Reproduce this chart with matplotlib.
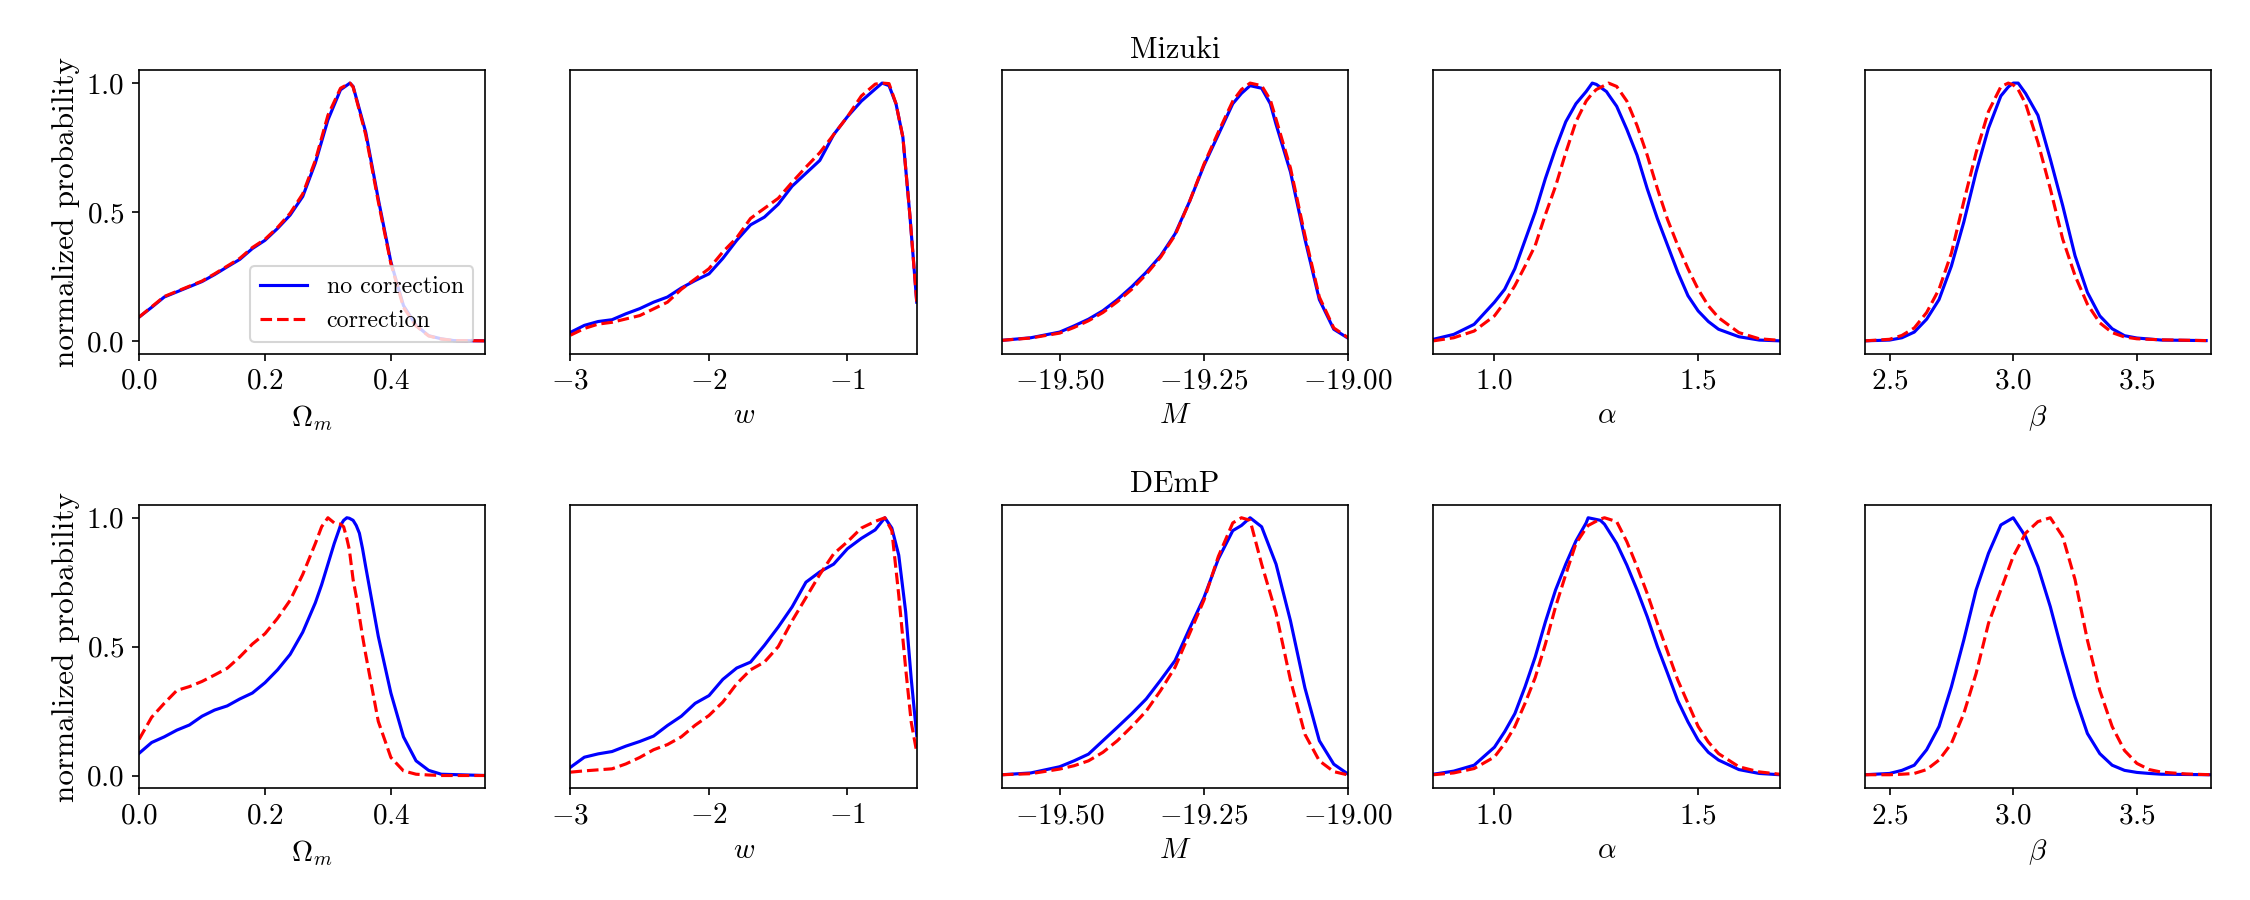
import matplotlib
matplotlib.use("Agg")
import matplotlib.pyplot as plt
import numpy as np

plt.rcParams['font.family'] = ['cmr10', 'DejaVu Serif']
plt.rcParams['mathtext.fontset'] = 'cm'
plt.rcParams['axes.formatter.use_mathtext'] = True
plt.rcParams['axes.unicode_minus'] = True
plt.rcParams['font.size'] = 14

row_titles = ["Mizuki", "DEmP"]
xlabels = [r"$\Omega_m$", r"$w$", r"$M$", r"$\alpha$", r"$\beta$"]
xlims = [(0.0, 0.55), (-3.0, -0.5), (-19.6, -19.0), (0.85, 1.70), (2.4, 3.8)]
xticks = [[0.0, 0.2, 0.4], [-3, -2, -1], [-19.5, -19.25, -19.0], [1.0, 1.5], [2.5, 3.0, 3.5]]
legend_labels = ["no correction", "correction"]

# ---------------- Mizuki (top row) ----------------
om_x_mz = [0.0, 0.02, 0.04, 0.06, 0.08, 0.10, 0.12, 0.14, 0.16, 0.18, 0.20, 0.22, 0.24, 0.26, 0.28,
           0.30, 0.32, 0.335, 0.34, 0.36, 0.38, 0.40, 0.42, 0.44, 0.46, 0.48, 0.50, 0.55]
om_nc_mz = [0.092, 0.13, 0.17, 0.19, 0.21, 0.23, 0.257, 0.287, 0.316, 0.358, 0.39, 0.436, 0.488, 0.56, 0.69,
            0.857, 0.974, 1.0, 0.987, 0.81, 0.55, 0.306, 0.137, 0.06, 0.02, 0.008, 0.001, 0.0]
om_c_mz = [0.092, 0.132, 0.172, 0.192, 0.212, 0.232, 0.26, 0.29, 0.32, 0.362, 0.394, 0.44, 0.495, 0.57, 0.70,
           0.875, 0.98, 1.0, 0.985, 0.80, 0.54, 0.30, 0.13, 0.058, 0.019, 0.007, 0.001, 0.0]

w_x_mz = [-3.0, -2.9, -2.8, -2.7, -2.6, -2.5, -2.4, -2.3, -2.2, -2.1, -2.0, -1.9, -1.8, -1.7, -1.6, -1.5,
          -1.4, -1.3, -1.2, -1.1, -1.0, -0.9, -0.8, -0.75, -0.7, -0.65, -0.6, -0.55, -0.5]
w_nc_mz = [0.033, 0.06, 0.075, 0.082, 0.105, 0.125, 0.15, 0.17, 0.205, 0.234, 0.26, 0.32, 0.39, 0.45, 0.48,
           0.53, 0.60, 0.65, 0.70, 0.80, 0.87, 0.93, 0.977, 1.0, 0.99, 0.92, 0.79, 0.49, 0.15]
w_c_mz = [0.022, 0.048, 0.065, 0.072, 0.085, 0.098, 0.124, 0.15, 0.2, 0.24, 0.28, 0.345, 0.40, 0.475, 0.514,
          0.553, 0.615, 0.674, 0.73, 0.80, 0.87, 0.95, 0.996, 1.0, 0.998, 0.92, 0.79, 0.49, 0.15]

m_x_mz = [-19.6, -19.55, -19.5, -19.475, -19.45, -19.425, -19.4, -19.375, -19.35, -19.325, -19.3, -19.275,
          -19.25, -19.225, -19.2, -19.185, -19.17, -19.15, -19.135, -19.125, -19.1, -19.075, -19.05, -19.025, -19.0]
m_nc_mz = [0.002, 0.012, 0.034, 0.058, 0.084, 0.117, 0.16, 0.21, 0.266, 0.33, 0.415, 0.54,
           0.68, 0.80, 0.92, 0.96, 0.99, 0.98, 0.92, 0.84, 0.655, 0.395, 0.16, 0.045, 0.01]
m_c_mz = [0.002, 0.011, 0.03, 0.052, 0.078, 0.11, 0.152, 0.2, 0.258, 0.325, 0.41, 0.54,
          0.685, 0.81, 0.93, 0.975, 1.0, 0.99, 0.935, 0.86, 0.67, 0.41, 0.17, 0.05, 0.012]

a_x_mz = [0.85, 0.9, 0.95, 1.0, 1.025, 1.05, 1.075, 1.1, 1.125, 1.15, 1.175, 1.2, 1.225, 1.24, 1.25, 1.275,
          1.28, 1.3, 1.325, 1.35, 1.375, 1.4, 1.425, 1.45, 1.475, 1.5, 1.525, 1.55, 1.6, 1.65, 1.70]
a_nc_mz = [0.006, 0.025, 0.064, 0.15, 0.2, 0.28, 0.39, 0.5, 0.63, 0.746, 0.85, 0.92, 0.967, 1.0, 0.995, 0.967,
           0.955, 0.91, 0.82, 0.72, 0.59, 0.474, 0.37, 0.266, 0.175, 0.116, 0.075, 0.045, 0.016, 0.003, 0.0]
a_c_mz = [0.0, 0.012, 0.038, 0.097, 0.15, 0.214, 0.29, 0.37, 0.49, 0.6, 0.73, 0.85, 0.93, 0.96, 0.975, 0.995,
          1.0, 0.987, 0.93, 0.835, 0.72, 0.59, 0.47, 0.37, 0.28, 0.2, 0.136, 0.09, 0.032, 0.008, 0.002]

b_x_mz = [2.4, 2.5, 2.55, 2.6, 2.65, 2.7, 2.75, 2.8, 2.85, 2.9, 2.95, 2.98, 3.0, 3.02, 3.05, 3.1, 3.15, 3.2,
          3.25, 3.3, 3.35, 3.4, 3.45, 3.5, 3.6, 3.78]
b_nc_mz = [0.0, 0.003, 0.012, 0.034, 0.084, 0.16, 0.29, 0.46, 0.655, 0.825, 0.95, 0.985, 1.0, 1.0, 0.96, 0.875,
           0.705, 0.525, 0.33, 0.188, 0.097, 0.047, 0.02, 0.011, 0.003, 0.001]
b_c_mz = [0.0, 0.006, 0.021, 0.05, 0.11, 0.2, 0.34, 0.54, 0.73, 0.89, 0.986, 1.0, 0.993, 0.975, 0.92, 0.77,
          0.59, 0.395, 0.253, 0.142, 0.07, 0.032, 0.015, 0.008, 0.004, 0.001]

# ---------------- DEmP (bottom row) ----------------
om_x_dp = [0.0, 0.02, 0.04, 0.06, 0.08, 0.10, 0.12, 0.14, 0.16, 0.18, 0.20, 0.22, 0.24, 0.26, 0.28,
           0.29, 0.30, 0.31, 0.32, 0.325, 0.33, 0.334, 0.34, 0.345, 0.35, 0.355, 0.36, 0.38, 0.40, 0.42,
           0.44, 0.46, 0.48, 0.55]
om_nc_dp = [0.086, 0.128, 0.15, 0.176, 0.196, 0.23, 0.254, 0.27, 0.297, 0.32, 0.36, 0.41, 0.47, 0.556, 0.67,
            0.74, 0.82, 0.9, 0.97, 0.99, 1.0, 0.998, 0.99, 0.97, 0.94, 0.88, 0.81, 0.54, 0.32, 0.15,
            0.057, 0.02, 0.005, 0.0]
om_c_dp = [0.14, 0.226, 0.28, 0.33, 0.345, 0.365, 0.39, 0.416, 0.46, 0.51, 0.55, 0.61, 0.68, 0.78, 0.90,
           0.965, 1.0, 0.98, 0.975, 0.965, 0.92, 0.877, 0.76, 0.695, 0.617, 0.54, 0.47, 0.21, 0.07, 0.018,
           0.005, 0.002, 0.0, 0.0]

w_x_dp = [-3.0, -2.9, -2.8, -2.7, -2.6, -2.5, -2.4, -2.3, -2.2, -2.1, -2.0, -1.9, -1.8, -1.7, -1.6, -1.5,
          -1.4, -1.3, -1.2, -1.1, -1.0, -0.9, -0.8, -0.73, -0.68, -0.63, -0.58, -0.54, -0.5]
w_nc_dp = [0.032, 0.071, 0.084, 0.093, 0.114, 0.132, 0.153, 0.194, 0.23, 0.28, 0.31, 0.373, 0.417, 0.44, 0.505,
           0.576, 0.654, 0.75, 0.79, 0.82, 0.88, 0.92, 0.953, 1.0, 0.96, 0.855, 0.635, 0.376, 0.155]
w_c_dp = [0.013, 0.018, 0.022, 0.026, 0.045, 0.07, 0.10, 0.12, 0.15, 0.195, 0.233, 0.285, 0.356, 0.41, 0.44,
          0.5, 0.60, 0.69, 0.78, 0.86, 0.907, 0.96, 0.986, 1.0, 0.95, 0.70, 0.415, 0.207, 0.09]

m_x_dp = [-19.6, -19.55, -19.5, -19.475, -19.45, -19.425, -19.4, -19.375, -19.35, -19.325, -19.3, -19.275,
          -19.25, -19.225, -19.2, -19.185, -19.17, -19.15, -19.125, -19.1, -19.075, -19.05, -19.025, -19.0]
m_nc_dp = [0.003, 0.01, 0.034, 0.057, 0.083, 0.135, 0.187, 0.24, 0.297, 0.37, 0.446, 0.57,
           0.69, 0.84, 0.95, 0.97, 1.0, 0.965, 0.82, 0.60, 0.34, 0.135, 0.044, 0.005]
m_c_dp = [0.003, 0.007, 0.025, 0.038, 0.057, 0.09, 0.135, 0.19, 0.25, 0.33, 0.42, 0.55,
          0.68, 0.85, 0.98, 1.0, 0.99, 0.82, 0.63, 0.37, 0.16, 0.057, 0.015, 0.002]

a_x_dp = [0.85, 0.9, 0.95, 1.0, 1.025, 1.05, 1.075, 1.1, 1.125, 1.15, 1.175, 1.2, 1.225, 1.23, 1.26, 1.27,
          1.3, 1.325, 1.35, 1.375, 1.4, 1.425, 1.45, 1.475, 1.5, 1.525, 1.55, 1.6, 1.65, 1.70]
a_nc_dp = [0.005, 0.017, 0.04, 0.11, 0.17, 0.24, 0.344, 0.46, 0.596, 0.72, 0.82, 0.91, 0.98, 1.0, 0.99, 0.975,
           0.9, 0.816, 0.72, 0.616, 0.5, 0.396, 0.29, 0.208, 0.137, 0.09, 0.06, 0.023, 0.008, 0.003]
a_c_dp = [0.003, 0.01, 0.027, 0.072, 0.124, 0.19, 0.28, 0.38, 0.51, 0.655, 0.78, 0.9, 0.96, 0.97, 0.995, 1.0,
          0.985, 0.907, 0.81, 0.706, 0.59, 0.48, 0.37, 0.28, 0.19, 0.13, 0.085, 0.034, 0.014, 0.005]

b_x_dp = [2.4, 2.5, 2.55, 2.6, 2.65, 2.7, 2.75, 2.8, 2.85, 2.9, 2.95, 3.0, 3.05, 3.1, 3.15, 3.2, 3.25,
          3.3, 3.35, 3.4, 3.45, 3.5, 3.55, 3.6, 3.7, 3.8]
b_nc_dp = [0.003, 0.008, 0.02, 0.04, 0.1, 0.19, 0.344, 0.525, 0.72, 0.862, 0.972, 1.0, 0.927, 0.81, 0.655,
           0.473, 0.305, 0.163, 0.085, 0.04, 0.02, 0.012, 0.008, 0.005, 0.004, 0.003]
b_c_dp = [0.003, 0.003, 0.005, 0.008, 0.023, 0.06, 0.124, 0.24, 0.396, 0.59, 0.72, 0.85, 0.94, 0.985, 1.0,
          0.927, 0.76, 0.525, 0.33, 0.19, 0.097, 0.047, 0.023, 0.013, 0.006, 0.003]

rows = [
    [(om_x_mz, om_nc_mz, om_c_mz), (w_x_mz, w_nc_mz, w_c_mz), (m_x_mz, m_nc_mz, m_c_mz),
     (a_x_mz, a_nc_mz, a_c_mz), (b_x_mz, b_nc_mz, b_c_mz)],
    [(om_x_dp, om_nc_dp, om_c_dp), (w_x_dp, w_nc_dp, w_c_dp), (m_x_dp, m_nc_dp, m_c_dp),
     (a_x_dp, a_nc_dp, a_c_dp), (b_x_dp, b_nc_dp, b_c_dp)],
]

fig, axes = plt.subplots(2, 5, figsize=(15, 6), dpi=150)
fig.subplots_adjust(left=0.0618, right=0.9827, top=0.922, bottom=0.124, wspace=0.246, hspace=0.533)

for r in range(2):
    for c in range(5):
        ax = axes[r, c]
        x, nc, cc = rows[r][c]
        ax.plot(x, nc, color='blue', lw=1.5, ls='-', label=legend_labels[0])
        ax.plot(x, cc, color='red', lw=1.5, ls='--', label=legend_labels[1])
        ax.set_xlim(*xlims[c])
        ax.set_ylim(-0.05, 1.05)
        ax.set_xticks(xticks[c])
        ax.set_xlabel(xlabels[c])
        if c == 0:
            ax.set_yticks([0.0, 0.5, 1.0])
            ax.set_ylabel("normalized probability", fontsize=15, labelpad=3)
        else:
            ax.set_yticks([])
        if c == 2:
            ax.set_title(row_titles[r], fontsize=14.5)
        if r == 0 and c == 0:
            ax.legend(loc='lower right', fontsize=11.5)

fig.savefig("out.png", dpi=150)
